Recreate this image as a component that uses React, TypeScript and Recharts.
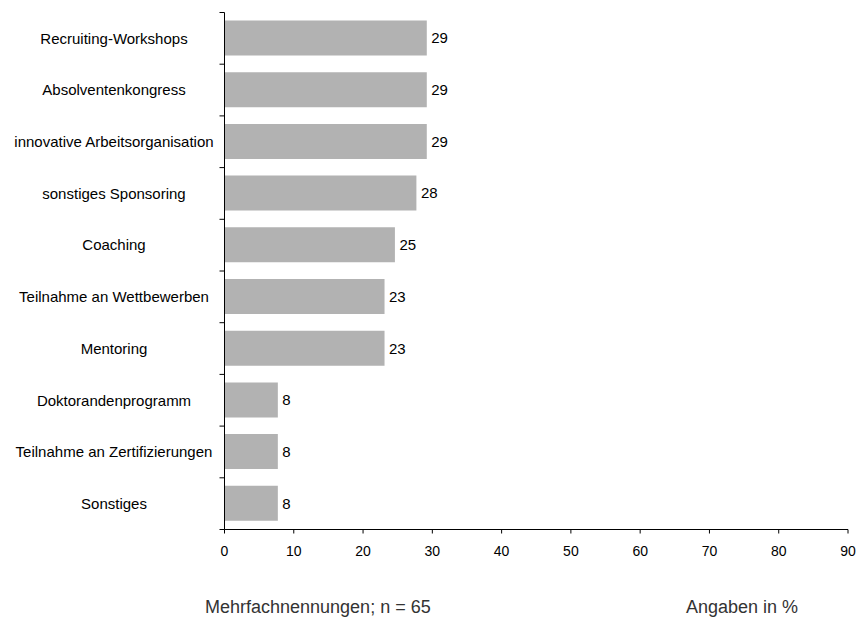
import React from "react"
import { Bar, BarChart, XAxis, YAxis, LabelList } from "recharts"

const categories = [
  "Recruiting-Workshops",
  "Absolventenkongress",
  "innovative Arbeitsorganisation",
  "sonstiges Sponsoring",
  "Coaching",
  "Teilnahme an Wettbewerben",
  "Mentoring",
  "Doktorandenprogramm",
  "Teilnahme an Zertifizierungen",
  "Sonstiges",
]

// share of respondents in percent (n = 65)
const shares = [29.2, 29.2, 29.2, 27.7, 24.6, 23.1, 23.1, 7.7, 7.7, 7.7]

const xTicks = [0, 10, 20, 30, 40, 50, 60, 70, 80, 90]

const data = categories.map((name, i) => ({ name, value: shares[i] }))

const W = 857
const H = 619
const FONT = "'Liberation Sans', Arial, Helvetica, sans-serif"
const MARGIN = { top: 12.5, right: 9, bottom: 59.5, left: 0 }
const Y_AXIS_W = 224.5
const X_AXIS_H = 30
const PLOT_H = H - MARGIN.top - MARGIN.bottom - X_AXIS_H
const BAND = PLOT_H / categories.length
const AXIS_X = MARGIN.left + Y_AXIS_W
const LABEL_CX = 114

// category labels with tick marks on the band boundaries
function CategoryTick(props: any) {
  const { y, payload, index } = props
  const top = y - BAND / 2
  const last = index === categories.length - 1
  return (
    <g>
      <line x1={AXIS_X - 5} x2={AXIS_X} y1={top} y2={top} stroke="#000" />
      {last && (
        <line x1={AXIS_X - 5} x2={AXIS_X} y1={y + BAND / 2} y2={y + BAND / 2} stroke="#000" />
      )}
      <text
        x={LABEL_CX}
        y={y}
        dy="0.355em"
        textAnchor="middle"
        fontSize={15}
        fontFamily={FONT}
        fill="#000"
      >
        {payload.value}
      </text>
    </g>
  )
}

export default function App() {
  return (
    <div style={{ position: "absolute", left: 0, top: 0, width: W, height: H, background: "#fff" }}>
      <BarChart
        width={W}
        height={H}
        data={data}
        layout="vertical"
        margin={MARGIN}
        barSize={35}
      >
        <XAxis
          type="number"
          domain={[0, 90]}
          ticks={xTicks}
          interval={0}
          height={X_AXIS_H}
          tickSize={4}
          tickMargin={13}
          axisLine={{ stroke: "#000" }}
          tickLine={{ stroke: "#000" }}
          tick={{ fill: "#000", fontSize: 14, fontFamily: FONT }}
        />
        <YAxis
          type="category"
          dataKey="name"
          width={Y_AXIS_W}
          interval={0}
          axisLine={{ stroke: "#000" }}
          tickLine={false}
          tick={<CategoryTick />}
        />
        <Bar dataKey="value" fill="#b2b2b2" isAnimationActive={false}>
          <LabelList
            dataKey="value"
            position="right"
            offset={4.5}
            formatter={(v: any) => Math.round(Number(v))}
            fill="#000"
            fontSize={15}
            fontFamily={FONT}
          />
        </Bar>
      </BarChart>
      <svg
        width={W}
        height={H}
        style={{ position: "absolute", left: 0, top: 0, pointerEvents: "none" }}
      >
        <text x={205} y={612.7} fontSize={18} fontFamily={FONT} fill="#333">
          Mehrfachnennungen; n = 65
        </text>
        <text x={686} y={612.7} fontSize={18} fontFamily={FONT} fill="#333">
          Angaben in %
        </text>
      </svg>
    </div>
  )
}
